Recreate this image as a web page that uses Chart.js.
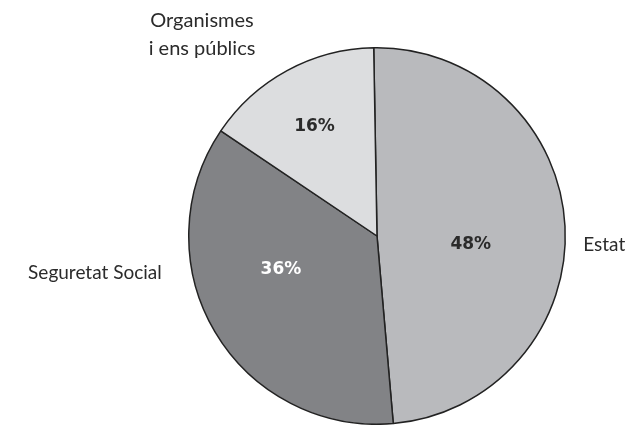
<!DOCTYPE html>
<html>
<head>
<meta charset="utf-8">
<script src="https://cdn.jsdelivr.net/npm/chart.js@4/dist/chart.umd.min.js"></script>
<style>
html,body{margin:0;padding:0;background:#fff;overflow:hidden;}
#wrap{position:relative;width:641px;height:425px;}
</style>
</head>
<body>
<div id="wrap"><canvas id="c" width="641" height="425"></canvas></div>
<script>
// Data
const categories = ["Estat", "Seguretat Social", ["Organismes", "i ens públics"]];
const sliceValues = [48.9, 35.8, 15.3];
const percentLabels = ["48%", "36%", "16%"];

const sliceColors = ["#b9babd", "#828386", "#dcdddf"];
const pctColors = ["#2b2b2b", "#ffffff", "#2b2b2b"];
const FONT = "Lato, 'Open Sans', sans-serif";
const PCT_FONT = "'DejaVu Sans', sans-serif";

const labelPlugin = {
  id: "labels",
  afterDatasetsDraw(chart) {
    const ctx = chart.ctx;
    const meta = chart.getDatasetMeta(0);
    const arc0 = meta.data[0];
    const cx = arc0.x, cy = arc0.y, r = arc0.outerRadius;
    // percentage labels: [angle offset (rad), radius fraction]
    const pctPos = [[0.14, 0.50], [0.2, 0.54], [-0.02, 0.67]];
    ctx.save();
    ctx.textBaseline = "middle";
    ctx.textAlign = "center";
    ctx.font = "bold 17px " + PCT_FONT;
    meta.data.forEach((arc, i) => {
      const mid = (arc.startAngle + arc.endAngle) / 2 + pctPos[i][0];
      const rr = r * pctPos[i][1];
      ctx.fillStyle = pctColors[i];
      ctx.fillText(percentLabels[i], cx + Math.cos(mid) * rr, cy + Math.sin(mid) * rr);
    });
    // category labels
    ctx.font = "19px " + FONT;
    ctx.fillStyle = "#2b2b2b";
    ctx.textAlign = "left";
    ctx.fillText(categories[0], cx + r + 18, cy + 9);
    ctx.textAlign = "right";
    ctx.fillText(categories[1], cx - r - 27, cy + 37);
    ctx.textAlign = "center";
    const org = categories[2];
    ctx.font = "20px " + FONT;
    ctx.fillText(org[0], cx - 175, cy - 215);
    ctx.fillText(org[1], cx - 175, cy - 187);
    ctx.restore();
  }
};

new Chart(document.getElementById("c"), {
  type: "pie",
  data: {
    labels: categories.map(c => Array.isArray(c) ? c.join(" ") : c),
    datasets: [{
      data: sliceValues,
      backgroundColor: sliceColors,
      borderColor: "#222222",
      borderWidth: 1.5,
      borderAlign: "center"
    }]
  },
  options: {
    responsive: false,
    animation: false,
    rotation: -1,
    layout: { padding: { left: 188, right: 75, top: 47, bottom: 0 } },
    plugins: { legend: { display: false }, tooltip: { enabled: false } }
  },
  plugins: [labelPlugin]
});
</script>
</body>
</html>
